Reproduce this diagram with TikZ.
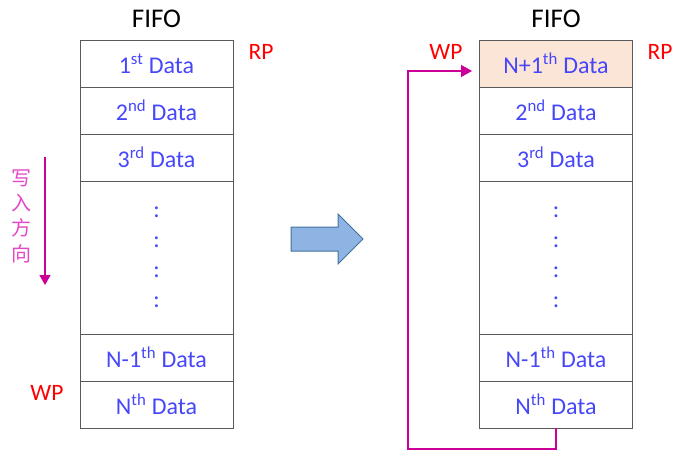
\documentclass[tikz,border=0pt]{standalone}
\usepackage{fontspec}
\setmainfont{Carlito}
\newfontfamily\cjkfont{Noto Sans CJK SC}
\usetikzlibrary{arrows.meta, positioning}
\definecolor{datablue}{HTML}{4646FA}
\definecolor{cellline}{HTML}{595959}
\definecolor{wpmagenta}{HTML}{CC0099}
\definecolor{dirpink}{HTML}{E448C6}
\definecolor{newcell}{HTML}{FBE5D6}
\definecolor{shiftfill}{HTML}{8EB4E3}
\definecolor{shiftline}{HTML}{41719C}

\begin{document}
\begin{tikzpicture}[x=1pt, y=-1pt,
    node distance=0pt,
    cell/.style={rectangle, draw=cellline, line width=0.9pt, minimum width=153pt,
                 minimum height=47pt, inner sep=0pt, outer sep=0pt, text=datablue,
                 font=\fontsize{24}{28}\selectfont},
    dotcell/.style={cell, minimum height=153pt, align=center,
                    font=\fontsize{24}{30}\selectfont},
    title/.style={font=\fontsize{27}{32}\selectfont, inner sep=0pt},
    ptr/.style={text=red, font=\fontsize{23.5}{28}\selectfont, inner sep=0pt},
    dirlabel/.style={text=dirpink, align=center, inner sep=0pt,
                     font=\cjkfont\fontsize{20}{25.3}\selectfont},
    dirarrow/.style={wpmagenta, line width=1.4pt, -{Triangle[width=11pt,length=10pt]}},
    loopline/.style={wpmagenta, line width=1.4pt, -{Triangle[width=12pt,length=11pt]}}
  ]
  \useasboundingbox (0,0) rectangle (673,452);

  % before
  \node[cell] (l1) at (156.5,63.5) {1\textsuperscript{st} Data};
  \node[cell, below=of l1] (l2) {2\textsuperscript{nd} Data};
  \node[cell, below=of l2] (l3) {3\textsuperscript{rd} Data};
  \node[dotcell, below=of l3] (ldots) {:\\:\\:\\:};
  \node[cell, below=of ldots] (lprev) {N-1\textsuperscript{th} Data};
  \node[cell, below=of lprev] (llast) {N\textsuperscript{th} Data};
  \node[title, above=12pt of l1] (ltitle) {FIFO};
  \node[ptr] (lrp) at (261,52) {RP};
  \node[ptr] (lwp) at (47,393) {WP};

  \coordinate (dirtop) at (45,157);
  \coordinate (dirbot) at (45,285);
  \draw[dirarrow] (dirtop) -- (dirbot);
  \node[dirlabel] (dirtext) at (22,216) {写\\入\\方\\向};

  % shift
  \draw[shiftline, fill=shiftfill, line width=1pt] (291,227) -- (338,227) -- (338,214)
    -- (363,239) -- (338,264) -- (338,251) -- (291,251) -- cycle;

  % after
  \node[cell, fill=newcell] (r1) at (556,63.5) {N+1\textsuperscript{th} Data};
  \node[cell, below=of r1] (r2) {2\textsuperscript{nd} Data};
  \node[cell, below=of r2] (r3) {3\textsuperscript{rd} Data};
  \node[dotcell, below=of r3] (rdots) {:\\:\\:\\:};
  \node[cell, below=of rdots] (rprev) {N-1\textsuperscript{th} Data};
  \node[cell, below=of rprev] (rlast) {N\textsuperscript{th} Data};
  \node[title, above=12pt of r1] (rtitle) {FIFO};
  \node[ptr] (rrp) at (660,52) {RP};
  \node[ptr] (rwp) at (446,52) {WP};

  \coordinate (wpin) at (472,71);
  \coordinate (loopcorner) at (408,449);
  \draw[loopline] (rlast.south) |- (loopcorner) |- (wpin);
\end{tikzpicture}
\end{document}
